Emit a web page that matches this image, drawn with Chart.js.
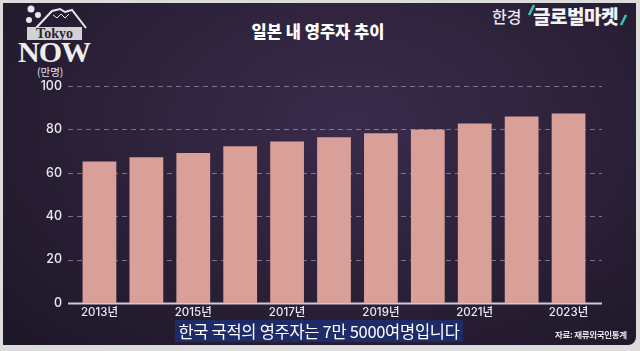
<!DOCTYPE html>
<html>
<head>
<meta charset="utf-8">
<script src="https://cdn.jsdelivr.net/npm/chart.js@4"></script>
<style>
  html, body { margin: 0; padding: 0; }
  body { width: 640px; height: 351px; background: #dcdcdc; position: relative; overflow: hidden;
         font-family: "Noto Sans CJK KR", "Noto Sans", sans-serif; }
  #panel { position: absolute; left: 3px; top: 3px; width: 633px; height: 342px;
           border-radius: 0 0 8px 0; overflow: hidden;
           background: radial-gradient(ellipse at 55% 35%, #3a2b4b 0%, #2c2139 50%, #1d1627 100%); }
  #chartWrap { position: absolute; left: 0; top: 0; width: 640px; height: 351px; }
  .txt { position: absolute; color: #fff; white-space: nowrap; }
  #title { left: 0; width: 636px; top: 19px; text-align: center; font-size: 16.5px; font-weight: 900; }
  #unit { left: 37px; top: 64px; font-size: 10.5px; color: #e4e0ea; }
  #brand1 { left: 492px; top: 4px; font-size: 16px; font-weight: 500; color: #e8e8ee; }
  #brand2 { left: 533px; top: 2px; font-size: 19px; font-weight: 900; color: #f2f2f6; letter-spacing: -0.5px; }
  #caption { left: 175px; top: 320px; width: 288px; height: 22px; background: #1f2b66;
             font-size: 16.5px; line-height: 22px; text-align: center; letter-spacing: -0.3px; }
  #source { left: 555px; top: 328px; font-size: 8.5px; font-weight: 700; color: #e6e2ea; letter-spacing: -0.3px; }
  #tokyo { left: 27px; top: 27px; width: 55px; height: 13px; background: #d2d2d4; color: #2b2233;
           font-family: "Liberation Serif", "DejaVu Serif", serif; font-size: 14px; line-height: 13px;
           text-align: center; font-weight: 700; }
  #now { left: 18px; top: 35px; width: 68px; text-align: center; color: #eeeef0;
         font-family: "Liberation Serif", "DejaVu Serif", serif; font-size: 30px; font-weight: 700; letter-spacing: -1px; }
</style>
</head>
<body>
<div id="panel"></div>
<svg style="position:absolute;left:0;top:0" width="640" height="70">
  <polyline points="36,28 52,11 60,9 65,12 72,10 86,28" fill="none" stroke="#e8e8ec" stroke-width="2"/>
  <polyline points="53,15 57,18 61,14 65,18 69,14" fill="none" stroke="#e8e8ec" stroke-width="1"/>
  <circle cx="31" cy="9" r="3.5" fill="#e8e8ec"/>
  <circle cx="38" cy="15" r="3" fill="#e8e8ec"/>
  <circle cx="29" cy="20" r="3" fill="#e8e8ec"/>
  <line x1="529" y1="15" x2="534" y2="5" stroke="#3fc2b1" stroke-width="2.5"/>
  <line x1="621" y1="25" x2="626" y2="15" stroke="#3fc2b1" stroke-width="2.5"/>
</svg>
<div class="txt" id="tokyo">Tokyo</div>
<div class="txt" id="now">NOW</div>
<div class="txt" id="brand1">한경</div>
<div class="txt" id="brand2">글로벌마켓</div>
<div class="txt" id="title">일본 내 영주자 추이</div>
<div class="txt" id="unit">(만명)</div>
<div id="chartWrap"><canvas id="myChart" width="640" height="351"></canvas></div>
<div class="txt" id="caption">한국 국적의 영주자는 7만 5000여명입니다</div>
<div class="txt" id="source">자료: 재류외국인통계</div>
<script>
// data (unit: 만명)
const years = ['2013년', '2014년', '2015년', '2016년', '2017년', '2018년',
               '2019년', '2020년', '2021년', '2022년', '2023년'];
const residents = [65.2, 67.2, 69.1, 72.2, 74.4, 76.4, 78.2, 80.0, 82.7, 85.9, 87.3];
const yTicks = [0, 20, 40, 60, 80, 100];

const tickFont = "Inter, 'Noto Sans CJK KR', sans-serif";

// dashed grid + baseline spanning a bit wider than the bars
const gridPlugin = {
    id: 'grid',
    beforeDatasetsDraw(chart) {
        const ctx = chart.ctx;
        const y = chart.scales.y;
        const x0 = 68, x1 = 602;
        ctx.save();
        yTicks.forEach(v => {
            const py = Math.round(y.getPixelForValue(v)) + 0.5;
            ctx.beginPath();
            if (v === 0) {
                ctx.setLineDash([]);
                ctx.strokeStyle = '#cfc8d8';
                ctx.lineWidth = 2;
            } else {
                ctx.setLineDash([5, 4]);
                ctx.strokeStyle = 'rgba(190, 180, 205, 0.55)';
                ctx.lineWidth = 1;
            }
            ctx.moveTo(x0, py);
            ctx.lineTo(x1, py);
            ctx.stroke();
        });
        ctx.restore();
    }
};

function drawChart() {
    const ctx = document.getElementById('myChart').getContext('2d');
    return new Chart(ctx, {
        type: 'bar',
        data: {
            labels: years,
            datasets: [{
                data: residents,
                backgroundColor: '#d99f99',
                borderWidth: 0,
                barPercentage: 0.72,
                categoryPercentage: 1
            }]
        },
        options: {
            responsive: false,
            animation: false,
            layout: { padding: { left: 0, right: 48, top: 86, bottom: 28 } },
            plugins: { legend: { display: false }, tooltip: { enabled: false } },
            scales: {
                x: {
                    grid: { display: false, drawTicks: false },
                    border: { display: false },
                    afterFit: s => { s.height = 20; },
                    ticks: {
                        autoSkip: false,
                        maxRotation: 0,
                        padding: 3,
                        color: '#ece8f0',
                        font: { family: tickFont, size: 11.5, weight: '500' },
                        callback: function (val, i) { return i % 2 === 0 ? this.getLabelForValue(val) : ''; }
                    }
                },
                y: {
                    min: 0,
                    max: 100,
                    grid: { display: false, drawTicks: false },
                    border: { display: false },
                    afterFit: s => { s.width = 76; },
                    afterBuildTicks: s => { s.ticks = yTicks.map(v => ({ value: v })); },
                    ticks: {
                        padding: 14,
                        color: '#ece8f0',
                        font: { family: tickFont, size: 12.5, weight: '500' }
                    }
                }
            }
        },
        plugins: [gridPlugin]
    });
}

Promise.all([
    document.fonts.load("500 12px Inter", '2013'),
    document.fonts.load("500 12px 'Noto Sans CJK KR'", '년')
]).then(drawChart, drawChart);
</script>
</body>
</html>
